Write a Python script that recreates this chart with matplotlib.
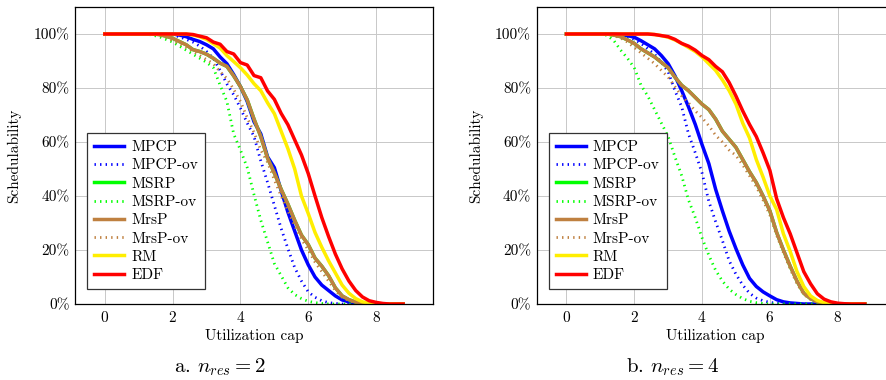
import matplotlib.pyplot as plt
import numpy as np

plt.rcParams['font.family'] = ['cmr10', 'DejaVu Serif']
plt.rcParams['mathtext.fontset'] = 'cm'
plt.rcParams['axes.unicode_minus'] = False
plt.rcParams['axes.formatter.use_mathtext'] = True

# utilization cap grid (x axis), step 0.2
util = np.arange(0, 8.81, 0.2)

methods = ['MPCP', 'MPCP-ov', 'MSRP', 'MSRP-ov', 'MrsP', 'MrsP-ov', 'RM', 'EDF']
colors = ['#0000ff', '#0000ff', '#00ff00', '#00ff00',
          '#bf8040', '#bf8040', '#ffee00', '#ff0000']
dotted = [False, True, False, True, False, True, False, False]

# --- panel a: n_res = 2 (schedulability, %) ---
a_mpcp = [100, 100, 100, 100, 100, 100, 100, 100, 100, 100, 100,
          99.6, 99.0, 98.0, 97.2, 96.0, 94.5, 91.5, 89.0, 85.0, 80.5,
          75.0, 67.5, 63.0, 54.5, 50.5, 42.0, 34.0, 27.0, 20.0, 14.5,
          10.0, 7.0, 5.0, 3.0, 1.5, 0.8, 0.3, 0.1, 0, 0, 0, 0, 0, 0]
a_mpcp_ov = [100, 100, 100, 100, 100, 100, 100, 100, 100, 100,
             99.6, 99.0, 98.0, 97.0, 95.5, 93.5, 91.0, 86.5, 81.5, 77.5,
             72.5, 67.0, 62.0, 53.0, 45.0, 36.5, 28.0, 20.5, 13.5, 8.5,
             4.5, 2.5, 1.2, 0.5, 0.2, 0, 0, 0, 0, 0, 0, 0, 0, 0, 0]
a_msrp = [100, 100, 100, 100, 100, 100, 100, 100,
          99.8, 99.2, 98.4, 97.2, 96.0, 94.2, 93.5, 92.5, 91.0, 89.2, 88.0,
          84.5, 80.5, 75.6, 68.5, 62.0, 54.0, 48.5, 42.5, 37.0, 31.0, 25.5,
          22.0, 17.0, 14.0, 10.5, 6.0, 3.0, 1.6, 0.7, 0.3, 0.1, 0, 0, 0, 0, 0]
a_msrp_ov = [100, 100, 100, 100, 100, 100, 100,
             99.6, 99.0, 98.0, 97.0, 95.5, 94.0, 92.5, 91.0, 89.5, 87.5,
             81.0, 75.0, 63.0, 57.0, 50.5, 40.5, 31.0, 23.0, 15.0, 10.5,
             6.0, 3.5, 2.0, 1.0, 0.5, 0.2, 0, 0, 0, 0, 0, 0, 0, 0, 0, 0, 0, 0]
a_mrsp = [100, 100, 100, 100, 100, 100, 100, 100,
          99.8, 99.2, 98.4, 97.2, 96.0, 94.2, 93.5, 92.5, 91.0, 89.2, 88.0,
          84.5, 80.5, 75.6, 68.5, 62.0, 54.0, 48.5, 42.5, 37.0, 31.0, 25.5,
          22.0, 17.0, 14.0, 10.5, 6.0, 3.0, 1.6, 0.7, 0.3, 0.1, 0, 0, 0, 0, 0]
a_mrsp_ov = [100, 100, 100, 100, 100, 100, 100, 100,
             99.5, 98.8, 97.5, 96.4, 95.0, 93.6, 92.0, 90.5, 89.0, 86.0, 83.5,
             79.5, 75.0, 69.0, 63.5, 57.0, 52.5, 46.0, 40.0, 34.5, 29.0, 24.0,
             20.0, 15.5, 12.0, 8.5, 5.0, 2.5, 1.2, 0.5, 0.2, 0, 0, 0, 0, 0, 0]
a_rm = [100, 100, 100, 100, 100, 100, 100, 100, 100, 100, 100, 100, 100,
        99.6, 99.0, 98.0, 96.4, 94.8, 92.0, 89.8, 87.5, 84.8, 81.6,
        79.0, 74.5, 70.5, 64.0, 57.5, 50.0, 40.0, 33.5, 26.5, 21.0,
        16.0, 11.5, 7.0, 4.0, 2.0, 0.8, 0.3, 0, 0, 0, 0, 0]
a_edf = [100, 100, 100, 100, 100, 100, 100, 100, 100, 100, 100, 100, 100,
         99.8, 99.2, 98.6, 97.0, 96.2, 93.5, 92.6, 89.4, 88.5, 84.6,
         83.8, 78.9, 75.8, 70.6, 66.4, 60.8, 55.2, 48.3, 40.0, 32.0,
         25.0, 18.5, 13.0, 8.5, 5.0, 2.6, 1.2, 0.6, 0.2, 0, 0, 0]

# --- panel b: n_res = 4 ---
b_mpcp = [100, 100, 100, 100, 100, 100, 100, 100,
          99.8, 99.4, 98.8, 97.5, 96.0, 94.5, 92.0, 89.0, 84.5, 79.0,
          73.0, 66.5, 59.0, 52.0, 42.5, 34.5, 27.0, 20.5, 14.5, 9.5,
          6.5, 4.5, 3.0, 1.6, 0.8, 0.4, 0.2, 0, 0, 0, 0, 0, 0, 0, 0, 0, 0]
b_mpcp_ov = [100, 100, 100, 100, 100, 100, 100, 100,
             99.6, 99.0, 98.0, 96.5, 94.5, 92.5, 89.5, 86.0, 79.0, 73.0,
             63.0, 56.0, 48.5, 38.0, 30.5, 23.5, 16.0, 11.0, 7.0, 4.0,
             2.2, 1.2, 0.6, 0.3, 0.1, 0, 0, 0, 0, 0, 0, 0, 0, 0, 0, 0, 0]
b_msrp = [100, 100, 100, 100, 100, 100, 100,
          99.6, 99.0, 97.8, 96.5, 94.5, 93.0, 91.5, 89.5, 87.5, 84.0,
          81.0, 79.0, 76.5, 74.0, 72.0, 68.5, 64.0, 61.0, 58.0, 53.5,
          49.0, 45.0, 40.0, 34.5, 26.5, 20.0, 14.0, 8.5, 4.0, 2.0,
          0.8, 0.3, 0, 0, 0, 0, 0, 0]
b_msrp_ov = [100, 100, 100, 100, 100, 100,
             99.5, 97.5, 94.0, 91.0, 87.5, 81.0, 77.0, 72.0, 67.0, 62.0,
             54.5, 47.5, 38.5, 32.0, 24.5, 18.0, 12.5, 8.5, 5.5, 3.5,
             2.0, 1.0, 0.5, 0.2, 0, 0, 0, 0, 0, 0, 0, 0, 0, 0, 0, 0, 0, 0, 0]
b_mrsp = [100, 100, 100, 100, 100, 100, 100,
          99.6, 99.0, 97.8, 96.5, 94.5, 93.0, 91.5, 89.5, 87.5, 84.0,
          81.0, 79.0, 76.5, 74.0, 72.0, 68.5, 64.0, 61.0, 58.0, 53.5,
          49.0, 45.0, 40.0, 34.5, 26.5, 20.0, 14.0, 8.5, 4.0, 2.0,
          0.8, 0.3, 0, 0, 0, 0, 0, 0]
b_mrsp_ov = [100, 100, 100, 100, 100, 100, 100,
             99.4, 98.5, 97.0, 95.0, 93.0, 91.0, 89.0, 86.5, 84.0, 80.5,
             77.0, 74.5, 71.5, 69.0, 66.0, 62.5, 60.0, 57.0, 55.0, 51.5,
             47.5, 43.5, 38.5, 33.0, 25.5, 19.0, 13.0, 7.5, 3.5, 1.7,
             0.6, 0.2, 0, 0, 0, 0, 0, 0]
b_rm = [100, 100, 100, 100, 100, 100, 100, 100, 100, 100, 100, 100, 100,
        99.8, 99.4, 98.8, 97.8, 96.5, 95.0, 93.5, 91.5, 89.0, 86.5,
        83.0, 79.0, 74.0, 67.0, 61.5, 53.5, 47.0, 40.0, 35.0, 26.0,
        19.5, 12.0, 6.5, 3.0, 1.3, 0.5, 0.2, 0, 0, 0, 0, 0]
b_edf = [100, 100, 100, 100, 100, 100, 100, 100, 100, 100, 100, 100, 100,
         99.8, 99.4, 99.0, 98.0, 96.5, 95.5, 94.0, 92.0, 90.5, 88.0,
         86.0, 82.0, 77.0, 71.5, 66.5, 62.0, 56.0, 49.5, 39.0, 32.0,
         26.0, 19.0, 12.0, 7.5, 3.8, 1.8, 0.8, 0.3, 0.1, 0, 0, 0]

panel_a = [a_mpcp, a_mpcp_ov, a_msrp, a_msrp_ov, a_mrsp, a_mrsp_ov, a_rm, a_edf]
panel_b = [b_mpcp, b_mpcp_ov, b_msrp, b_msrp_ov, b_mrsp, b_mrsp_ov, b_rm, b_edf]


def draw(ax, series):
    for name, vals, col, dot in zip(methods, series, colors, dotted):
        if dot:
            ax.plot(util, vals, color=col, lw=2.0, linestyle=(0, (0.5, 1.5)), label=name)
        else:
            ax.plot(util, vals, color=col, lw=2.5, label=name)
    ax.set_xlim(-0.88, 9.68)
    ax.set_ylim(0, 110)
    ax.set_xticks([0, 2, 4, 6, 8])
    ax.set_yticks([0, 20, 40, 60, 80, 100])
    ax.set_yticklabels([f'{v}%' for v in [0, 20, 40, 60, 80, 100]])
    ax.grid(True, color='#c8c8c8', lw=0.7)
    ax.set_axisbelow(True)
    ax.tick_params(length=0, labelsize=11, pad=4)
    for sp in ax.spines.values():
        sp.set_linewidth(0.9)
    ax.set_xlabel('Utilization cap', fontsize=11)
    ax.set_ylabel('Schedulability', fontsize=11)
    ax.xaxis.set_label_coords(0.5, -0.083)
    ax.yaxis.set_label_coords(-0.15, 0.5)
    leg = ax.legend(loc='lower left', bbox_to_anchor=(0.0335, 0.0505),
                    borderaxespad=0, fontsize=11, handlelength=2.0,
                    handletextpad=0.45, labelspacing=0.3, borderpad=0.45,
                    fancybox=False, framealpha=1, edgecolor='#333333')
    leg.get_frame().set_linewidth(0.9)


fig = plt.figure(figsize=(8.86, 3.8), dpi=100)
ax_a = fig.add_axes([0.0847, 0.2, 0.404, 0.7816])
ax_b = fig.add_axes([0.6057, 0.2, 0.404, 0.7816])
draw(ax_a, panel_a)
draw(ax_b, panel_b)

fig.text(0.248, 0.034, r'a. $n_{res} = 2$', ha='center', va='center', fontsize=15)
fig.text(0.759, 0.034, r'b. $n_{res} = 4$', ha='center', va='center', fontsize=15)

fig.savefig('out.png', dpi=100)
plt.close(fig)
